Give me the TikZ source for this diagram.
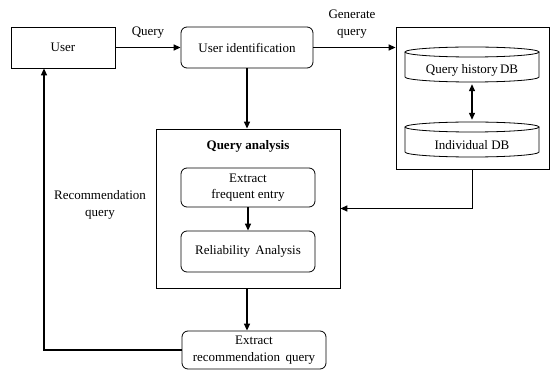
\documentclass[tikz,border=0pt]{standalone}
\usepackage{fontspec}
\setmainfont{Liberation Serif}
\usetikzlibrary{arrows.meta}
\begin{document}
\begin{tikzpicture}[x=1pt,y=-1pt,
  font=\fontsize{13}{16.5}\selectfont,
  box/.style={draw, line width=0.8pt, inner sep=0pt, align=center},
  rbox/.style={box, rounded corners=6pt},
  arr/.style={-{Triangle[length=7pt,width=6pt]}, line width=1.3pt},
  darr/.style={{Triangle[length=7pt,width=6pt]}-{Triangle[length=7pt,width=6pt]}, line width=1.3pt},
  lbl/.style={align=center, inner sep=0pt},
  dbcyl/.pic={
    \draw[line width=0.8pt] (-67,-12.5) -- (-67,12.5)
      arc[start angle=180, end angle=0, x radius=67, y radius=5] -- (67,-12.5);
    \draw[line width=0.8pt] (0,-12.5) ellipse[x radius=67, y radius=5];
  }]
\useasboundingbox (0,0) rectangle (551,371);

% main blocks
\node[box, minimum width=104, minimum height=41] (user) at (63,47.5) {User};
\node[rbox, minimum width=132, minimum height=41] (uid) at (247,47.5) {User identification};
\node[box, minimum width=153, minimum height=142] (dbbox) at (472.5,98) {};
\node[box, minimum width=184, minimum height=159] (qa) at (248,208.5) {};
\node[lbl, font=\fontsize{13}{16.5}\selectfont\bfseries] (qatitle) at (248,146) {Query analysis};
\node[rbox, minimum width=134, minimum height=39] (efe) at (248,187.5) {Extract\\frequent entry};
\node[rbox, minimum width=134, minimum height=41] (rel) at (248,251.5) {Reliability\, Analysis};
\node[rbox, minimum width=144, minimum height=38] (erq) at (254,350) {Extract\\recommendation\, query};

% databases
\node[inner sep=0pt, minimum width=134, minimum height=35] (qhdb) at (472,64.5) {};
\pic at (qhdb.center) {dbcyl};
\node[lbl] (qhtext) at (472,70) {Query history\kern-1pt\ DB};
\node[inner sep=0pt, minimum width=134, minimum height=35] (inddb) at (472,139.5) {};
\pic at (inddb.center) {dbcyl};
\node[lbl] (indtext) at (472,145) {Individual DB};

% connectors
\draw[arr] (user.east) -- (uid.west);
\draw[arr] (uid.east) -- (uid.east -| dbbox.west);
\draw[darr, shorten <=2pt, shorten >=2pt] (qhdb.south) -- (inddb.north);
\draw[arr] (dbbox.south) |- (qa.east);
\draw[arr] (uid.south) -- (uid.south |- qa.north);
\draw[arr] (efe.south) -- (rel.north);
\coordinate (qaout) at ([xshift=-1pt]qa.south);
\draw[arr] (qaout) -- (qaout |- erq.north);
\coordinate (userin) at ([xshift=-19pt]user.south);
\draw[arr] (erq.west) -| (userin);

% connector labels
\node[lbl] (lq) at (148,33) {Query};
\node[lbl] (lgq) at (352,24) {Generate\\query};
\node[lbl] (lrq) at (100,205) {Recommendation\\query};
\end{tikzpicture}
\end{document}
